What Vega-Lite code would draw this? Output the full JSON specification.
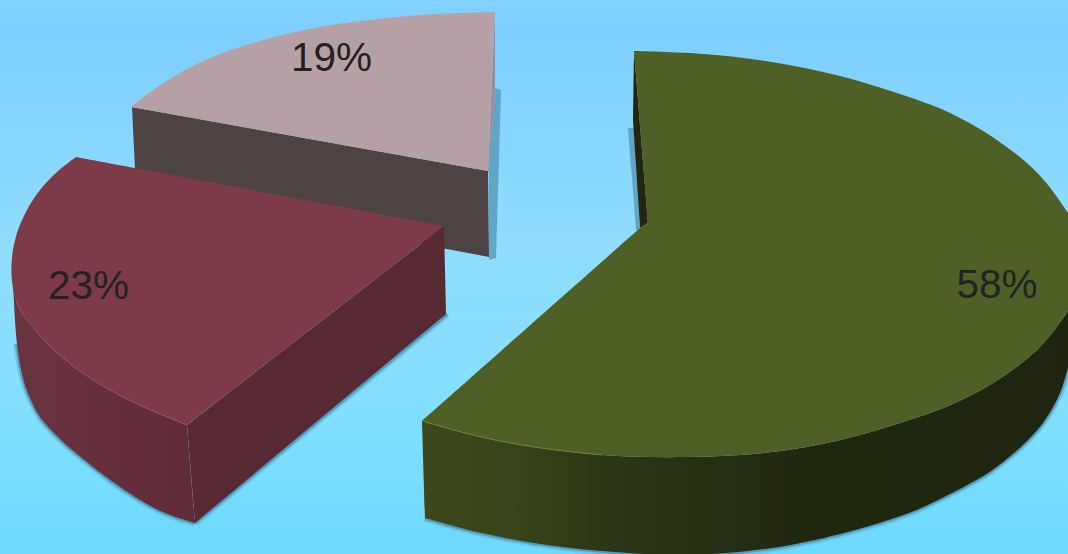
{"$schema":"https://vega.github.io/schema/vega-lite/v6.json","width":1068,"height":554,"padding":0,"autosize":"none","config":{"view":{"stroke":null}},
"datasets":{"outline":[
{"shape":"bg","seq":1,"x":0,"y":0},{"shape":"bg","seq":2,"x":1068,"y":0},{"shape":"bg","seq":3,"x":1068,"y":554},{"shape":"bg","seq":4,"x":0,"y":554},{"shape":"bg","seq":5,"x":0,"y":0},
{"shape":"greenWall","seq":1,"x":422,"y":421},{"shape":"greenWall","seq":2,"x":422,"y":421},{"shape":"greenWall","seq":3,"x":477,"y":436},{"shape":"greenWall","seq":4,"x":534,"y":447},{"shape":"greenWall","seq":5,"x":602,"y":455},{"shape":"greenWall","seq":6,"x":687,"y":457},{"shape":"greenWall","seq":7,"x":772,"y":452},{"shape":"greenWall","seq":8,"x":840,"y":440},{"shape":"greenWall","seq":9,"x":909,"y":420},{"shape":"greenWall","seq":10,"x":948,"y":406},{"shape":"greenWall","seq":11,"x":988,"y":386},{"shape":"greenWall","seq":12,"x":1028,"y":358},{"shape":"greenWall","seq":13,"x":1048,"y":338},{"shape":"greenWall","seq":14,"x":1070,"y":308},{"shape":"greenWall","seq":15,"x":1070,"y":308},{"shape":"greenWall","seq":16,"x":1070,"y":360},{"shape":"greenWall","seq":17,"x":1070,"y":360},{"shape":"greenWall","seq":18,"x":1060,"y":393},{"shape":"greenWall","seq":19,"x":1045,"y":420},{"shape":"greenWall","seq":20,"x":1028,"y":440},{"shape":"greenWall","seq":21,"x":1008,"y":458},{"shape":"greenWall","seq":22,"x":988,"y":473},{"shape":"greenWall","seq":23,"x":948,"y":495},{"shape":"greenWall","seq":24,"x":909,"y":513},{"shape":"greenWall","seq":25,"x":840,"y":534},{"shape":"greenWall","seq":26,"x":772,"y":548},{"shape":"greenWall","seq":27,"x":687,"y":555},{"shape":"greenWall","seq":28,"x":602,"y":551},{"shape":"greenWall","seq":29,"x":534,"y":543},{"shape":"greenWall","seq":30,"x":477,"y":532},{"shape":"greenWall","seq":31,"x":425,"y":518},{"shape":"greenWall","seq":32,"x":425,"y":518},{"shape":"greenWall","seq":33,"x":422,"y":421},{"shape":"greenWall","seq":34,"x":422,"y":421},
{"shape":"greenEdge","seq":1,"x":1070,"y":360},{"shape":"greenEdge","seq":2,"x":1060,"y":393},{"shape":"greenEdge","seq":3,"x":1045,"y":420},{"shape":"greenEdge","seq":4,"x":1028,"y":440},{"shape":"greenEdge","seq":5,"x":1008,"y":458},{"shape":"greenEdge","seq":6,"x":988,"y":473},{"shape":"greenEdge","seq":7,"x":948,"y":495},{"shape":"greenEdge","seq":8,"x":909,"y":513},{"shape":"greenEdge","seq":9,"x":840,"y":534},{"shape":"greenEdge","seq":10,"x":772,"y":548},{"shape":"greenEdge","seq":11,"x":687,"y":555},{"shape":"greenEdge","seq":12,"x":602,"y":551},{"shape":"greenEdge","seq":13,"x":534,"y":543},{"shape":"greenEdge","seq":14,"x":477,"y":532},{"shape":"greenEdge","seq":15,"x":425,"y":518},
{"shape":"greenTop","seq":1,"x":634,"y":51},{"shape":"greenTop","seq":2,"x":634,"y":51},{"shape":"greenTop","seq":3,"x":704,"y":54},{"shape":"greenTop","seq":4,"x":772,"y":62},{"shape":"greenTop","seq":5,"x":840,"y":76},{"shape":"greenTop","seq":6,"x":909,"y":97},{"shape":"greenTop","seq":7,"x":948,"y":112},{"shape":"greenTop","seq":8,"x":988,"y":134},{"shape":"greenTop","seq":9,"x":1028,"y":164},{"shape":"greenTop","seq":10,"x":1048,"y":185},{"shape":"greenTop","seq":11,"x":1070,"y":216},{"shape":"greenTop","seq":12,"x":1070,"y":216},{"shape":"greenTop","seq":13,"x":1070,"y":308},{"shape":"greenTop","seq":14,"x":1070,"y":308},{"shape":"greenTop","seq":15,"x":1048,"y":338},{"shape":"greenTop","seq":16,"x":1028,"y":358},{"shape":"greenTop","seq":17,"x":988,"y":386},{"shape":"greenTop","seq":18,"x":948,"y":406},{"shape":"greenTop","seq":19,"x":909,"y":420},{"shape":"greenTop","seq":20,"x":840,"y":440},{"shape":"greenTop","seq":21,"x":772,"y":452},{"shape":"greenTop","seq":22,"x":687,"y":457},{"shape":"greenTop","seq":23,"x":602,"y":455},{"shape":"greenTop","seq":24,"x":534,"y":447},{"shape":"greenTop","seq":25,"x":477,"y":436},{"shape":"greenTop","seq":26,"x":422,"y":421},{"shape":"greenTop","seq":27,"x":422,"y":421},{"shape":"greenTop","seq":28,"x":640,"y":228},{"shape":"greenTop","seq":29,"x":640,"y":228},{"shape":"greenTop","seq":30,"x":648,"y":223},{"shape":"greenTop","seq":31,"x":648,"y":223},{"shape":"greenTop","seq":32,"x":634,"y":51},{"shape":"greenTop","seq":33,"x":634,"y":51},
{"shape":"greenBack","seq":1,"x":634,"y":51},{"shape":"greenBack","seq":2,"x":633,"y":120},{"shape":"greenBack","seq":3,"x":640,"y":228},{"shape":"greenBack","seq":4,"x":648,"y":223},{"shape":"greenBack","seq":5,"x":634,"y":51},
{"shape":"greenBackShadow","seq":1,"x":628,"y":128},{"shape":"greenBackShadow","seq":2,"x":634,"y":128},{"shape":"greenBackShadow","seq":3,"x":640,"y":230},{"shape":"greenBackShadow","seq":4,"x":636,"y":230},{"shape":"greenBackShadow","seq":5,"x":628,"y":128},
{"shape":"redWall","seq":1,"x":13,"y":281},{"shape":"redWall","seq":2,"x":13,"y":281},{"shape":"redWall","seq":3,"x":17,"y":304},{"shape":"redWall","seq":4,"x":30,"y":324},{"shape":"redWall","seq":5,"x":50,"y":346},{"shape":"redWall","seq":6,"x":73,"y":366},{"shape":"redWall","seq":7,"x":103,"y":386},{"shape":"redWall","seq":8,"x":127,"y":399},{"shape":"redWall","seq":9,"x":153,"y":411},{"shape":"redWall","seq":10,"x":187,"y":425},{"shape":"redWall","seq":11,"x":187,"y":425},{"shape":"redWall","seq":12,"x":195,"y":523},{"shape":"redWall","seq":13,"x":195,"y":523},{"shape":"redWall","seq":14,"x":170,"y":515},{"shape":"redWall","seq":15,"x":147,"y":504},{"shape":"redWall","seq":16,"x":113,"y":482},{"shape":"redWall","seq":17,"x":87,"y":462},{"shape":"redWall","seq":18,"x":60,"y":439},{"shape":"redWall","seq":19,"x":40,"y":417},{"shape":"redWall","seq":20,"x":30,"y":398},{"shape":"redWall","seq":21,"x":23,"y":378},{"shape":"redWall","seq":22,"x":17,"y":344},{"shape":"redWall","seq":23,"x":13,"y":281},{"shape":"redWall","seq":24,"x":13,"y":281},
{"shape":"redEdge","seq":1,"x":17,"y":344},{"shape":"redEdge","seq":2,"x":23,"y":378},{"shape":"redEdge","seq":3,"x":30,"y":398},{"shape":"redEdge","seq":4,"x":40,"y":417},{"shape":"redEdge","seq":5,"x":60,"y":439},{"shape":"redEdge","seq":6,"x":87,"y":462},{"shape":"redEdge","seq":7,"x":113,"y":482},{"shape":"redEdge","seq":8,"x":147,"y":504},{"shape":"redEdge","seq":9,"x":170,"y":515},{"shape":"redEdge","seq":10,"x":195,"y":523},
{"shape":"redEdge2","seq":1,"x":195,"y":523},{"shape":"redEdge2","seq":2,"x":447,"y":314},
{"shape":"redFront","seq":1,"x":444,"y":226},{"shape":"redFront","seq":2,"x":446,"y":314},{"shape":"redFront","seq":3,"x":195,"y":523},{"shape":"redFront","seq":4,"x":187,"y":425},{"shape":"redFront","seq":5,"x":444,"y":226},
{"shape":"redTop","seq":1,"x":76,"y":157},{"shape":"redTop","seq":2,"x":76,"y":157},{"shape":"redTop","seq":3,"x":444,"y":226},{"shape":"redTop","seq":4,"x":444,"y":226},{"shape":"redTop","seq":5,"x":187,"y":425},{"shape":"redTop","seq":6,"x":187,"y":425},{"shape":"redTop","seq":7,"x":153,"y":411},{"shape":"redTop","seq":8,"x":127,"y":399},{"shape":"redTop","seq":9,"x":103,"y":386},{"shape":"redTop","seq":10,"x":73,"y":366},{"shape":"redTop","seq":11,"x":50,"y":346},{"shape":"redTop","seq":12,"x":30,"y":324},{"shape":"redTop","seq":13,"x":17,"y":304},{"shape":"redTop","seq":14,"x":12,"y":281},{"shape":"redTop","seq":15,"x":12,"y":257},{"shape":"redTop","seq":16,"x":17,"y":233},{"shape":"redTop","seq":17,"x":27,"y":210},{"shape":"redTop","seq":18,"x":40,"y":190},{"shape":"redTop","seq":19,"x":57,"y":172},{"shape":"redTop","seq":20,"x":76,"y":157},{"shape":"redTop","seq":21,"x":76,"y":157},
{"shape":"redRim","seq":1,"x":50,"y":346},{"shape":"redRim","seq":2,"x":73,"y":366},{"shape":"redRim","seq":3,"x":103,"y":386},{"shape":"redRim","seq":4,"x":127,"y":399},{"shape":"redRim","seq":5,"x":153,"y":411},{"shape":"redRim","seq":6,"x":187,"y":425},
{"shape":"greenRim","seq":1,"x":422,"y":421},{"shape":"greenRim","seq":2,"x":477,"y":436},{"shape":"greenRim","seq":3,"x":534,"y":447},{"shape":"greenRim","seq":4,"x":602,"y":455},
{"shape":"pinkShadow","seq":1,"x":495,"y":88},{"shape":"pinkShadow","seq":2,"x":501,"y":90},{"shape":"pinkShadow","seq":3,"x":496,"y":258},{"shape":"pinkShadow","seq":4,"x":489,"y":260},{"shape":"pinkShadow","seq":5,"x":489,"y":172},{"shape":"pinkShadow","seq":6,"x":495,"y":88},
{"shape":"pinkFront","seq":1,"x":132,"y":107},{"shape":"pinkFront","seq":2,"x":488,"y":171},{"shape":"pinkFront","seq":3,"x":489,"y":257},{"shape":"pinkFront","seq":4,"x":136,"y":190},{"shape":"pinkFront","seq":5,"x":132,"y":107},
{"shape":"pinkSliver","seq":1,"x":495,"y":12},{"shape":"pinkSliver","seq":2,"x":495,"y":88},{"shape":"pinkSliver","seq":3,"x":489,"y":172},{"shape":"pinkSliver","seq":4,"x":488,"y":171},{"shape":"pinkSliver","seq":5,"x":495,"y":12},
{"shape":"pinkTop","seq":1,"x":131,"y":107},{"shape":"pinkTop","seq":2,"x":131,"y":107},{"shape":"pinkTop","seq":3,"x":153,"y":90},{"shape":"pinkTop","seq":4,"x":187,"y":69},{"shape":"pinkTop","seq":5,"x":220,"y":54},{"shape":"pinkTop","seq":6,"x":253,"y":43},{"shape":"pinkTop","seq":7,"x":287,"y":34},{"shape":"pinkTop","seq":8,"x":320,"y":27},{"shape":"pinkTop","seq":9,"x":360,"y":21},{"shape":"pinkTop","seq":10,"x":420,"y":15},{"shape":"pinkTop","seq":11,"x":460,"y":13},{"shape":"pinkTop","seq":12,"x":495,"y":12},{"shape":"pinkTop","seq":13,"x":495,"y":12},{"shape":"pinkTop","seq":14,"x":488,"y":171},{"shape":"pinkTop","seq":15,"x":488,"y":171},{"shape":"pinkTop","seq":16,"x":131,"y":107},{"shape":"pinkTop","seq":17,"x":131,"y":107}
],"labels":[{"label":"19%","share":19,"x":331.5,"y":59},{"label":"23%","share":23,"x":88.5,"y":287},{"label":"58%","share":58,"x":997,"y":286}]},
"data":{"name":"outline"},
"encoding":{"x":{"field":"x","type":"quantitative","axis":null,"scale":{"domain":[0,1068],"nice":false,"zero":false}},"y":{"field":"y","type":"quantitative","axis":null,"scale":{"domain":[554,0],"nice":false,"zero":false}},"order":{"field":"seq","type":"quantitative"}},
"layer":[
{"transform":[{"filter":"datum.shape==='bg'"}],"mark":{"type":"line","strokeWidth":0,"fill":{"gradient":"linear","x1":0,"y1":0,"x2":0,"y2":1,"stops":[{"offset":0,"color":"#82d2ff"},{"offset":0.06,"color":"#7ecfff"},{"offset":0.45,"color":"#90ddff"},{"offset":0.75,"color":"#82e0ff"},{"offset":1,"color":"#6cd9fd"}]}}},
{"transform":[{"filter":"datum.shape==='greenBackShadow'"}],"mark":{"type":"line","strokeWidth":0,"fill":"#4f90ae","fillOpacity":0.7}},
{"transform":[{"filter":"datum.shape==='pinkShadow'"}],"mark":{"type":"line","strokeWidth":0,"fill":"#4f90ae","fillOpacity":0.7}},
{"transform":[{"filter":"datum.shape==='pinkFront'"}],"mark":{"type":"line","strokeWidth":0,"fill":"#4e4343"}},
{"transform":[{"filter":"datum.shape==='pinkSliver'"}],"mark":{"type":"line","strokeWidth":0,"fill":"#9d8b8d"}},
{"transform":[{"filter":"datum.shape==='pinkTop'"}],"mark":{"type":"line","strokeWidth":0,"interpolate":"catmull-rom","fill":"#b5a1a5"}},
{"transform":[{"filter":"datum.shape==='greenBack'"}],"mark":{"type":"line","strokeWidth":0,"fill":"#20260f"}},
{"transform":[{"filter":"datum.shape==='redEdge'||datum.shape==='redEdge2'||datum.shape==='greenEdge'"}],"mark":{"type":"line","stroke":"#5a9cba","strokeWidth":8,"strokeOpacity":0.3,"interpolate":"catmull-rom"},"encoding":{"detail":{"field":"shape"}}},
{"transform":[{"filter":"datum.shape==='redEdge'||datum.shape==='redEdge2'||datum.shape==='greenEdge'"}],"mark":{"type":"line","stroke":"#3f80a0","strokeWidth":4,"strokeOpacity":0.6,"interpolate":"catmull-rom"},"encoding":{"detail":{"field":"shape"}}},
{"transform":[{"filter":"datum.shape==='redWall'"}],"mark":{"type":"line","strokeWidth":0,"interpolate":"catmull-rom","fill":{"gradient":"linear","x1":0,"y1":0,"x2":1,"y2":0,"stops":[{"offset":0,"color":"#6a3340"},{"offset":1,"color":"#5f2b37"}]}}},
{"transform":[{"filter":"datum.shape==='redFront'"}],"mark":{"type":"line","strokeWidth":0,"fill":"#562933"}},
{"transform":[{"filter":"datum.shape==='redTop'"}],"mark":{"type":"line","strokeWidth":0,"interpolate":"catmull-rom","fill":"#7d3a48"}},
{"transform":[{"filter":"datum.shape==='redRim'"}],"mark":{"type":"line","stroke":"#a04d62","strokeWidth":1,"interpolate":"catmull-rom"}},
{"transform":[{"filter":"datum.shape==='greenWall'"}],"mark":{"type":"line","strokeWidth":0,"interpolate":"catmull-rom","fill":{"gradient":"linear","x1":0,"y1":0,"x2":1,"y2":0,"stops":[{"offset":0,"color":"#3c481b"},{"offset":0.12,"color":"#394519"},{"offset":0.3,"color":"#2c3515"},{"offset":0.6,"color":"#20270f"},{"offset":1,"color":"#1f250e"}]}}},
{"transform":[{"filter":"datum.shape==='greenTop'"}],"mark":{"type":"line","strokeWidth":0,"interpolate":"catmull-rom","fill":"#4f6027"}},
{"transform":[{"filter":"datum.shape==='greenRim'"}],"mark":{"type":"line","stroke":"#6d8234","strokeWidth":1,"interpolate":"catmull-rom"}},
{"data":{"name":"labels"},"mark":{"type":"text","font":"Liberation Sans","fontSize":40.5,"color":"#222222","align":"center","baseline":"middle"},"encoding":{"x":{"field":"x","type":"quantitative"},"y":{"field":"y","type":"quantitative"},"text":{"field":"label","type":"nominal"},"order":null}}
]}
